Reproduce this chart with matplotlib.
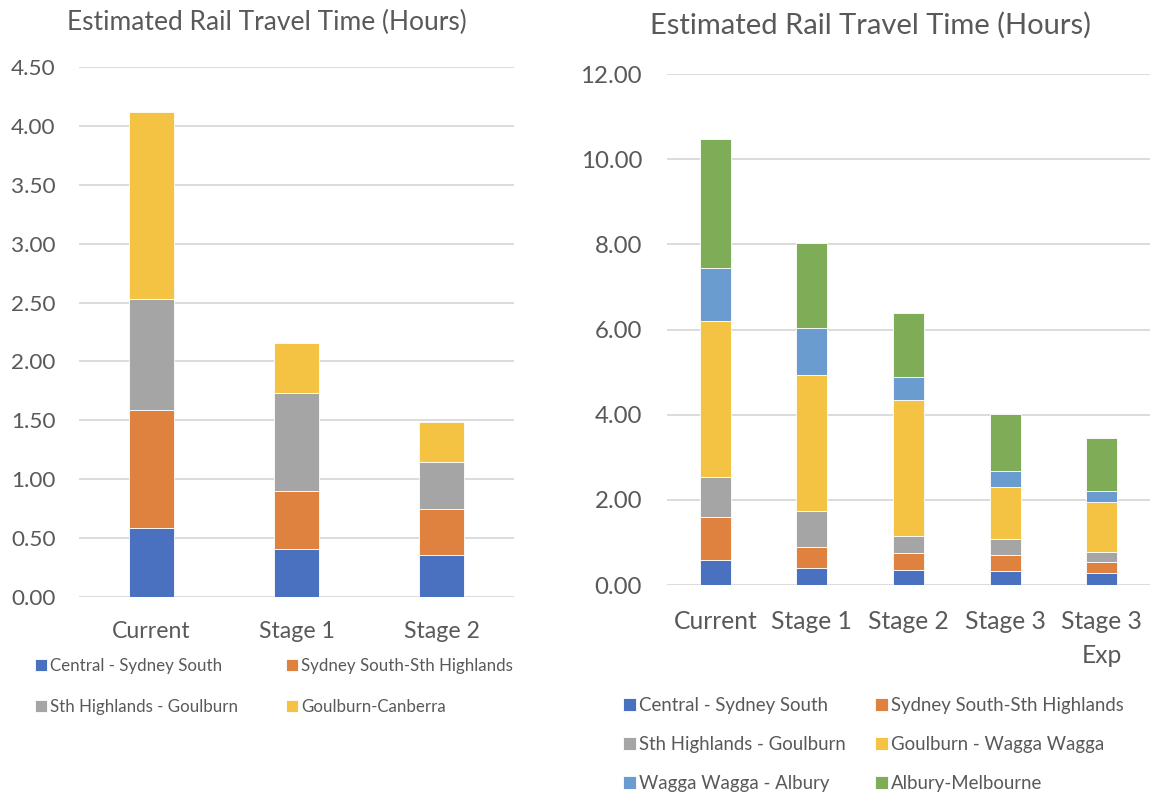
import matplotlib
matplotlib.use("Agg")
import matplotlib.pyplot as plt
import numpy as np

plt.rcParams["font.family"] = ["Lato", "DejaVu Sans"]

# ----------------- DATA -----------------
TITLE = "Estimated Rail Travel Time (Hours)"

# left chart: Sydney - Canberra
left_cats = ["Current", "Stage 1", "Stage 2"]
left_series = ["Central - Sydney South", "Sydney South-Sth Highlands",
               "Sth Highlands - Goulburn", "Goulburn-Canberra"]
left_central = [0.59, 0.41, 0.36]
left_syd_sth = [1.00, 0.49, 0.39]
left_sth_goul = [0.94, 0.83, 0.40]
left_goul_canb = [1.59, 0.43, 0.34]
left_ticks = [0.0, 0.5, 1.0, 1.5, 2.0, 2.5, 3.0, 3.5, 4.0, 4.5]

# right chart: Sydney - Melbourne
right_cats = ["Current", "Stage 1", "Stage 2", "Stage 3", "Stage 3\nExp"]
right_series = ["Central - Sydney South", "Sydney South-Sth Highlands",
                "Sth Highlands - Goulburn", "Goulburn - Wagga Wagga",
                "Wagga Wagga - Albury", "Albury-Melbourne"]
right_central = [0.59, 0.41, 0.36, 0.34, 0.28]
right_syd_sth = [1.00, 0.49, 0.39, 0.37, 0.27]
right_sth_goul = [0.94, 0.83, 0.40, 0.38, 0.23]
right_goul_wagga = [3.68, 3.20, 3.20, 1.22, 1.17]
right_wagga_alb = [1.24, 1.11, 0.53, 0.37, 0.25]
right_alb_melb = [3.03, 1.98, 1.50, 1.34, 1.25]
right_ticks = [0, 2, 4, 6, 8, 10, 12]

# ----------------- STYLE -----------------
COLORS = ["#4A71BF", "#E0823F", "#A5A5A5", "#F5C344", "#6A9CD0", "#7FAC57"]
TXT = "#595959"
GRID = "#D9D9D9"
W, H = 1150, 793


def px_axes(fig, x0, y_top, x1, y_bot):
    return fig.add_axes([x0 / W, 1 - y_bot / H, (x1 - x0) / W, (y_bot - y_top) / H])


def stacked(ax, cats, series, labels, width, ymax, ticks, tick_fs, cat_fs,
            ypad, xpad):
    x = np.arange(len(cats))
    bottom = np.zeros(len(cats))
    handles = []
    for vals, lab, col in zip(series, labels, COLORS):
        b = ax.bar(x, vals, width, bottom=bottom, color=col, label=lab,
                   edgecolor="white", linewidth=0.6, zorder=3)
        handles.append(b)
        bottom = bottom + np.array(vals)
    ax.set_xlim(-0.5, len(cats) - 0.5)
    ax.set_ylim(0, ymax)
    ax.set_yticks(ticks)
    ax.set_yticklabels([f"{t:.2f}" for t in ticks])
    ax.set_xticks(x)
    ax.set_xticklabels(cats, linespacing=1.6)
    ax.yaxis.grid(True, color=GRID, linewidth=1.3, zorder=0)
    ax.set_axisbelow(True)
    for s in ax.spines.values():
        s.set_visible(False)
    ax.tick_params(length=0, colors=TXT)
    ax.tick_params(axis="y", labelsize=tick_fs, pad=ypad)
    ax.tick_params(axis="x", labelsize=cat_fs, pad=xpad)
    return handles


fig = plt.figure(figsize=(W / 100, H / 100), dpi=100)

# left
axl = px_axes(fig, 79, 67, 514, 597)
hl = stacked(axl, left_cats,
             [left_central, left_syd_sth, left_sth_goul, left_goul_canb],
             left_series, 0.315, 4.5, left_ticks, 16.2, 16.7, 17, 17)
fig.text(267 / W, 1 - 22 / H, TITLE, ha="center", va="center",
         fontsize=19, color=TXT)
order = [0, 2, 1, 3]
fig.legend([hl[i] for i in order], [left_series[i] for i in order],
           loc="upper left", bbox_to_anchor=(35 / W, 1 - 658 / H), ncol=2,
           frameon=False, fontsize=12.2, handlelength=0.7, handleheight=0.7,
           handletextpad=0.2, columnspacing=2.8, labelspacing=1.45,
           borderpad=0, borderaxespad=0, labelcolor=TXT)

# right
axr = px_axes(fig, 667, 74, 1150, 585)
hr = stacked(axr, right_cats,
             [right_central, right_syd_sth, right_sth_goul, right_goul_wagga,
              right_wagga_alb, right_alb_melb],
             right_series, 0.32, 12, right_ticks, 17.3, 17.7, 18, 18)
fig.text(871 / W, 1 - 25 / H, TITLE, ha="center", va="center",
         fontsize=21, color=TXT)
order = [0, 2, 4, 1, 3, 5]
fig.legend([hr[i] for i in order], [right_series[i] for i in order],
           loc="upper left", bbox_to_anchor=(623 / W, 1 - 697 / H), ncol=2,
           frameon=False, fontsize=13.4, handlelength=0.7, handleheight=0.7,
           handletextpad=0.15, columnspacing=1.6, labelspacing=1.17,
           borderpad=0, borderaxespad=0, labelcolor=TXT)

fig.savefig("out.png", dpi=100, facecolor="white")
